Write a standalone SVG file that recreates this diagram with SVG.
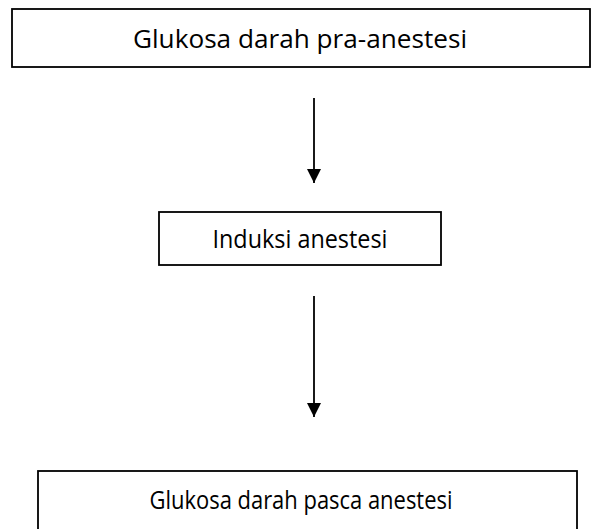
<svg xmlns="http://www.w3.org/2000/svg" width="600" height="529" viewBox="0 0 600 529">
<style>
.box{fill:#fff;stroke:#000;stroke-width:1.8}
.lbl{font-family:"Open Sans","Liberation Sans",sans-serif;font-size:25px;fill:#000;text-anchor:middle}
.conn{stroke:#000;stroke-width:1.8;fill:none}
</style>
<defs>
<marker id="ah" markerWidth="14" markerHeight="16" refX="14" refY="7" orient="auto" markerUnits="userSpaceOnUse" viewBox="0 0 14 14">
<path d="M0,0 L14,7 L0,14 Z" fill="#000"/>
</marker>
</defs>
<rect width="600" height="529" fill="#fff"/>
<g id="node-pra">
<rect class="box" x="12" y="9" width="578" height="58"/>
<text class="lbl" x="300" y="48" textLength="334" lengthAdjust="spacingAndGlyphs">Glukosa darah pra-anestesi</text>
</g>
<g id="node-induksi">
<rect class="box" x="159" y="212" width="282" height="53"/>
<text class="lbl" x="300" y="248" textLength="175" lengthAdjust="spacingAndGlyphs">Induksi anestesi</text>
</g>
<g id="node-pasca">
<rect class="box" x="38" y="471" width="539" height="70"/>
<text class="lbl" x="301" y="509" textLength="303" lengthAdjust="spacingAndGlyphs">Glukosa darah pasca anestesi</text>
</g>
<g id="connectors">
<line class="conn" x1="314" y1="98" x2="314" y2="183" marker-end="url(#ah)"/>
<line class="conn" x1="314" y1="296" x2="314" y2="417" marker-end="url(#ah)"/>
</g>
</svg>
